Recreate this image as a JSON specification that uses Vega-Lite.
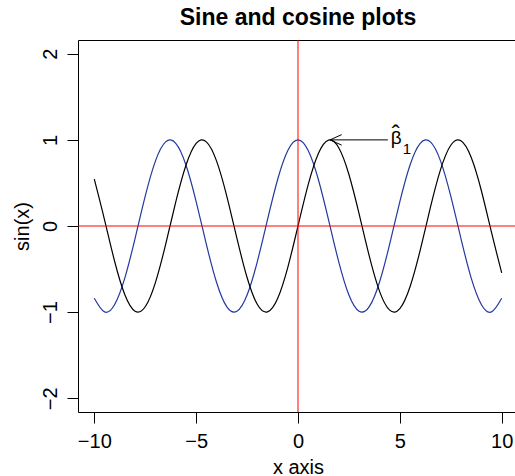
{
  "$schema": "https://vega.github.io/schema/vega-lite/v6.json",
  "autosize": {"type": "none"},
  "padding": {"left": 78, "top": 40, "right": 0, "bottom": 64},
  "width": 440,
  "height": 372,
  "background": "white",
  "config": {
    "font": "Liberation Sans",
    "view": {"stroke": "black", "strokeWidth": 1},
    "axis": {"grid": false, "domain": false, "tickColor": "black", "tickSize": 11, "tickWidth": 1, "labelColor": "black", "titleColor": "black", "labelFont": "Liberation Sans", "titleFont": "Liberation Sans", "labelFontSize": 20, "titleFontSize": 20, "titleFontWeight": "normal"}
  },
  "title": {"text": "Sine and cosine plots", "fontSize": 23, "fontWeight": "bold", "color": "black", "anchor": "middle", "frame": "group", "baseline": "alphabetic", "offset": 15, "dy": 23, "font": "Liberation Sans"},
  "datasets": {
    "curves": [
      {"x": -10, "s": 0.5440, "c": -0.8391},
      {"x": -9.5, "s": 0.0752, "c": -0.9972},
      {"x": -9, "s": -0.4121, "c": -0.9111},
      {"x": -8.5, "s": -0.7985, "c": -0.6020},
      {"x": -8, "s": -0.9894, "c": -0.1455},
      {"x": -7.5, "s": -0.9380, "c": 0.3466},
      {"x": -7, "s": -0.6570, "c": 0.7539},
      {"x": -6.5, "s": -0.2151, "c": 0.9766},
      {"x": -6, "s": 0.2794, "c": 0.9602},
      {"x": -5.5, "s": 0.7055, "c": 0.7087},
      {"x": -5, "s": 0.9589, "c": 0.2837},
      {"x": -4.5, "s": 0.9775, "c": -0.2108},
      {"x": -4, "s": 0.7568, "c": -0.6536},
      {"x": -3.5, "s": 0.3508, "c": -0.9365},
      {"x": -3, "s": -0.1411, "c": -0.9900},
      {"x": -2.5, "s": -0.5985, "c": -0.8011},
      {"x": -2, "s": -0.9093, "c": -0.4161},
      {"x": -1.5, "s": -0.9975, "c": 0.0707},
      {"x": -1, "s": -0.8415, "c": 0.5403},
      {"x": -0.5, "s": -0.4794, "c": 0.8776},
      {"x": 0, "s": 0, "c": 1},
      {"x": 0.5, "s": 0.4794, "c": 0.8776},
      {"x": 1, "s": 0.8415, "c": 0.5403},
      {"x": 1.5, "s": 0.9975, "c": 0.0707},
      {"x": 2, "s": 0.9093, "c": -0.4161},
      {"x": 2.5, "s": 0.5985, "c": -0.8011},
      {"x": 3, "s": 0.1411, "c": -0.9900},
      {"x": 3.5, "s": -0.3508, "c": -0.9365},
      {"x": 4, "s": -0.7568, "c": -0.6536},
      {"x": 4.5, "s": -0.9775, "c": -0.2108},
      {"x": 5, "s": -0.9589, "c": 0.2837},
      {"x": 5.5, "s": -0.7055, "c": 0.7087},
      {"x": 6, "s": -0.2794, "c": 0.9602},
      {"x": 6.5, "s": 0.2151, "c": 0.9766},
      {"x": 7, "s": 0.6570, "c": 0.7539},
      {"x": 7.5, "s": 0.9380, "c": 0.3466},
      {"x": 8, "s": 0.9894, "c": -0.1455},
      {"x": 8.5, "s": 0.7985, "c": -0.6020},
      {"x": 9, "s": 0.4121, "c": -0.9111},
      {"x": 9.5, "s": -0.0752, "c": -0.9972},
      {"x": 10, "s": -0.5440, "c": -0.8391}
    ],
    "arrow": [
      {"x": 4.41, "y": 1, "x2": 1.5708, "y2": 1},
      {"x": 1.5708, "y": 1, "x2": 2.145, "y2": 1.061},
      {"x": 1.5708, "y": 1, "x2": 2.145, "y2": 0.939}
    ],
    "label": [{"x": 4.55, "y": 1}]
  },
  "layer": [
    {
      "data": {"name": "curves"},
      "mark": {"type": "line", "color": "#2438a0", "strokeWidth": 1.2, "interpolate": "natural"},
      "encoding": {
        "x": {"field": "x", "type": "quantitative", "scale": {"domain": [-10.8, 10.8], "nice": false, "zero": false},
              "axis": {"values": [-10, -5, 0, 5, 10], "format": "d", "title": "x axis", "labelPadding": 8, "titleBaseline": "alphabetic", "titleY": 61}},
        "y": {"field": "c", "type": "quantitative", "scale": {"domain": [-2.16, 2.16], "nice": false, "zero": false},
              "axis": {"values": [-2, -1, 0, 1, 2], "format": "d", "title": "sin(x)", "labelAngle": -90, "labelAlign": "center", "labelBaseline": "alphabetic", "labelPadding": 11, "titleBaseline": "alphabetic", "titleX": -50}}
      }
    },
    {
      "data": {"name": "curves"},
      "mark": {"type": "line", "color": "black", "strokeWidth": 1.2, "interpolate": "natural"},
      "encoding": {
        "x": {"field": "x", "type": "quantitative"},
        "y": {"field": "s", "type": "quantitative"}
      }
    },
    {
      "data": {"values": [{"v": 0}]},
      "mark": {"type": "rule", "color": "#ff0000", "strokeWidth": 1},
      "encoding": {"x": {"field": "v", "type": "quantitative"}}
    },
    {
      "data": {"values": [{"v": 0}]},
      "mark": {"type": "rule", "color": "#ff0000", "strokeWidth": 1},
      "encoding": {"y": {"field": "v", "type": "quantitative"}}
    },
    {
      "data": {"name": "arrow"},
      "mark": {"type": "rule", "color": "black", "strokeWidth": 1},
      "encoding": {
        "x": {"field": "x", "type": "quantitative"},
        "y": {"field": "y", "type": "quantitative"},
        "x2": {"field": "x2"},
        "y2": {"field": "y2"}
      }
    },
    {
      "data": {"name": "label"},
      "mark": {"type": "text", "text": "β", "fontSize": 19, "align": "left", "baseline": "alphabetic", "dy": 4, "color": "black"},
      "encoding": {"x": {"field": "x", "type": "quantitative"}, "y": {"field": "y", "type": "quantitative"}}
    },
    {
      "data": {"name": "label"},
      "mark": {"type": "text", "text": "ˆ", "fontSize": 24, "align": "center", "baseline": "alphabetic", "dx": 5, "dy": 2, "color": "black"},
      "encoding": {"x": {"field": "x", "type": "quantitative"}, "y": {"field": "y", "type": "quantitative"}}
    },
    {
      "data": {"name": "label"},
      "mark": {"type": "text", "text": "1", "fontSize": 15, "align": "left", "baseline": "alphabetic", "dx": 12, "dy": 14, "color": "black"},
      "encoding": {"x": {"field": "x", "type": "quantitative"}, "y": {"field": "y", "type": "quantitative"}}
    }
  ]
}
